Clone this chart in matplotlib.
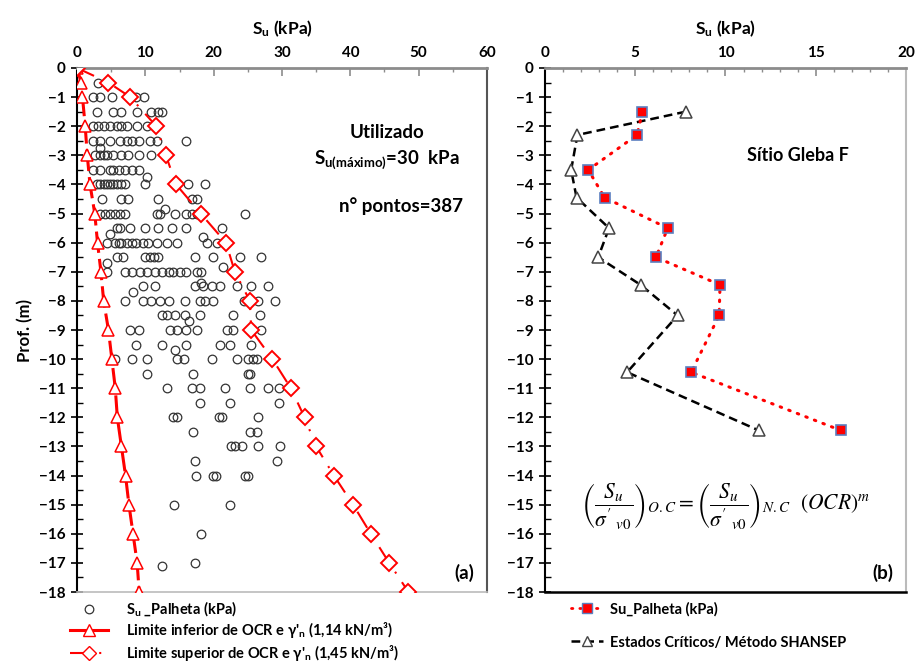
import matplotlib
matplotlib.use("Agg")
import matplotlib.pyplot as plt
from matplotlib.ticker import MultipleLocator
from matplotlib.lines import Line2D

plt.rcParams['font.family'] = ['Lato', 'DejaVu Sans']
plt.rcParams['mathtext.fontset'] = 'custom'
plt.rcParams['mathtext.rm'] = 'Lato:bold'
plt.rcParams['mathtext.bf'] = 'Lato:bold'
plt.rcParams['mathtext.it'] = 'Lato:bold'

# ---- (a) vane test points, grouped by depth row
palheta_depths = [-0.5, -1.0, -1.5, -2.0, -2.5, -2.75, -3.0, -3.5, -3.75, -4.0,
                  -4.5, -4.85, -5.0, -5.5, -5.7, -5.8, -6.0, -6.5, -6.7, -6.85,
                  -7.0, -7.4, -7.5, -7.7, -8.0, -8.5, -8.7, -9.0, -9.5, -9.7,
                  -10.0, -10.5, -11.0, -11.5, -12.0, -12.5, -13.0, -13.5, -14.0,
                  -15.0, -16.0, -17.0, -17.1]
palheta_su = [
    [3.1],
    [2.4, 3.3, 5.1, 8.7, 9.8],
    [2.9, 5.3, 6.5, 8.8, 10.9, 11.9, 12.4],
    [2.4, 3.1, 3.9, 4.8, 5.8, 6.5, 7.3, 8.8, 10.3],
    [2.4, 3.3, 4.8, 6.3, 7.3, 8.0, 9.1, 10.7, 11.7, 15.9],
    [3.3],
    [2.6, 3.3, 3.9, 4.4, 5.3, 6.5, 7.5, 9.0, 10.8],
    [2.4, 3.4, 4.8, 5.3, 6.2, 7.0, 8.0, 9.0],
    [10.3],
    [2.9, 3.4, 3.9, 4.4, 4.8, 5.3, 5.8, 6.4, 7.0, 9.9, 16.3, 18.7],
    [3.6, 6.5, 7.5, 11.9, 16.8, 17.5],
    [12.9],
    [3.4, 4.1, 4.8, 5.6, 6.3, 7.0, 11.7, 12.2, 14.3, 16.0, 16.8, 17.5, 24.6],
    [5.8, 6.3, 7.8, 10.0, 11.9, 13.9, 16.0, 21.2],
    [4.8],
    [18.5],
    [4.4, 5.6, 6.1, 6.5, 7.3, 8.0, 8.7, 9.7, 10.4, 11.7, 13.1, 14.6, 19.0, 20.5],
    [5.8, 6.8, 10.0, 10.7, 11.2, 11.9, 17.3, 19.9, 23.9, 27.0],
    [4.4],
    [21.4],
    [4.4, 7.0, 8.0, 9.2, 10.2, 11.4, 12.4, 13.4, 14.1, 15.1, 16.0, 17.5, 18.2],
    [18.2],
    [9.7, 11.4, 17.3, 18.5, 19.7, 20.9, 23.4, 25.4, 28.0],
    [8.2],
    [7.0, 9.7, 10.9, 12.2, 13.4, 15.8, 18.0, 18.7, 19.9, 24.4, 26.5, 29.0],
    [12.4, 13.1, 14.3, 15.8, 18.0, 22.9, 26.8],
    [16.4],
    [7.8, 9.0, 13.6, 14.6, 16.0, 17.5, 21.9, 22.9, 25.3, 27.0],
    [8.7, 12.4, 16.0, 20.9, 22.4, 25.5],
    [14.3],
    [5.6, 8.0, 10.3, 14.6, 15.6, 19.7, 23.4, 25.0, 25.7, 26.4],
    [10.3, 17.0, 25.0, 25.3],
    [13.1, 16.8, 18.0, 21.7, 25.3, 28.0, 29.5],
    [18.0, 22.4, 29.5],
    [14.1, 14.6, 20.8, 21.2, 26.5],
    [17.0, 25.3, 26.3],
    [22.6, 23.1, 24.1, 26.5, 29.7],
    [17.3, 29.2],
    [17.4, 19.9, 20.3, 24.6, 25.0],
    [14.2, 22.4],
    [18.2],
    [17.2],
    [12.4],
]

# OCR limits
lim_inf_depth = [0, -0.5, -1, -2, -3, -4, -5, -6, -7, -8, -9, -10, -11, -12, -13,
                 -14, -15, -16, -17, -18]
lim_inf_su = [0, 0.6, 0.8, 1.2, 1.5, 1.9, 2.6, 3.0, 3.5, 3.9, 4.6, 5.1, 5.6, 5.9,
              6.5, 7.1, 7.6, 8.2, 8.8, 9.1]
lim_sup_depth = [0, -0.5, -1, -2, -3, -4, -5, -6, -7, -8, -9, -10, -11, -12, -13,
                 -14, -15, -16, -17, -18]
lim_sup_su = [0, 4.6, 7.8, 11.6, 13.0, 14.5, 18.1, 21.8, 23.1, 25.3, 25.5, 28.6,
              31.3, 33.3, 35.0, 37.6, 40.4, 43.0, 45.7, 48.5]

# ---- (b) Sitio Gleba F
b_depth = [-1.5, -2.3, -3.5, -4.45, -5.5, -6.5, -7.45, -8.5, -10.45, -12.45]
b_palheta = [5.4, 5.1, 2.4, 3.3, 6.8, 6.15, 9.7, 9.65, 8.1, 16.4]
b_shansep = [7.8, 1.8, 1.45, 1.75, 3.55, 2.95, 5.3, 7.35, 4.55, 11.85]

red = '#FF0000'
gray = '#8C8C8C'

fig = plt.figure(figsize=(9.19, 6.64), dpi=100)
axa = fig.add_axes([0.0838, 0.1084, 0.4461, 0.7892])
axb = fig.add_axes([0.5930, 0.1084, 0.3928, 0.7892])

xs, ys = [], []
for d, vals in zip(palheta_depths, palheta_su):
    for v in vals:
        xs.append(v)
        ys.append(d)
axa.plot(xs, ys, 'o', ms=6.2, mfc='none', mec='#333333', mew=0.9, zorder=2)
axa.plot(lim_inf_su, lim_inf_depth, color=red, lw=2.2, ls=(0, (7, 2)),
         marker='^', ms=8, mfc='white', mec=red, mew=1.1, zorder=3)
axa.plot(lim_sup_su, lim_sup_depth, color=red, lw=1.5, ls=(0, (9, 5, 1, 5)),
         marker='D', ms=8, mfc='white', mec=red, mew=1.4, zorder=3)

axb.plot(b_shansep, b_depth, color='black', lw=1.8, ls=(0, (3.5, 2)),
         marker='^', ms=8, mfc='white', mec='#444444', mew=1.1, zorder=3)
axb.plot(b_palheta, b_depth, color=red, lw=2.2, ls=(0, (0.5, 2.5)),
         dash_capstyle='round', marker='s', ms=7.5, mfc=red, mec='#5B7FC0',
         mew=1.2, zorder=4)

for ax, xmax, major, minor in [(axa, 60, 10, 5), (axb, 20, 5, 1)]:
    ax.set_xlim(0, xmax)
    ax.set_ylim(-18, 0)
    ax.xaxis.tick_top()
    ax.xaxis.set_label_position('top')
    ax.xaxis.set_major_locator(MultipleLocator(major))
    ax.xaxis.set_minor_locator(MultipleLocator(minor))
    ax.yaxis.set_major_locator(MultipleLocator(1))
    ax.yaxis.set_minor_locator(MultipleLocator(0.5))
    ax.tick_params(axis='x', which='major', direction='in', length=6,
                   width=1.2, color=gray, labelsize=11, pad=6)
    ax.tick_params(axis='x', which='minor', direction='in', length=3,
                   width=1, color=gray)
    ax.tick_params(axis='y', which='major', direction='inout', length=8,
                   width=1.2, labelsize=11, pad=4)
    ax.tick_params(axis='y', which='minor', direction='in', length=4, width=1)
    for lab in ax.get_xticklabels() + ax.get_yticklabels():
        lab.set_fontweight('bold')
    ax.set_xlabel(r'S$_\mathbf{u}$ (kPa)', fontsize=12.5, labelpad=8,
                  fontweight='bold')
    ax.spines['top'].set_color(gray)
    ax.spines['top'].set_linewidth(2)
    ax.spines['right'].set_color('#555555')
    ax.spines['right'].set_linewidth(1.5)
    ax.spines['bottom'].set_color('#BBBBBB')
    ax.spines['bottom'].set_linewidth(1.2)
    ax.spines['left'].set_linewidth(1.5)

axb.spines['bottom'].set_color('black')
axb.spines['bottom'].set_linewidth(1.8)
axb.spines['right'].set_color('#BBBBBB')

axa.set_ylabel('Prof. (m)', fontsize=12, labelpad=4, fontweight='bold')

bold = dict(fontweight='bold', fontsize=13.5)
axa.text(0.755, 0.876, 'Utilizado', transform=axa.transAxes, ha='center',
         va='center', **bold)
axa.text(0.755, 0.824, r'S$_\mathbf{u(máximo)}$=30  kPa',
         transform=axa.transAxes, ha='center', va='center', **bold)
axa.text(0.79, 0.737, 'n° pontos=387', transform=axa.transAxes, ha='center',
         va='center', **bold)
axa.text(0.97, 0.02, '(a)', transform=axa.transAxes, ha='right', va='bottom',
         **bold)

axb.text(0.70, 0.833, 'Sítio Gleba F', transform=axb.transAxes, ha='center',
         va='center', fontweight='bold', fontsize=13)
axb.text(0.965, 0.02, '(b)', transform=axb.transAxes, ha='right', va='bottom',
         **bold)
axb.text(0.50, 0.165,
         r"$\left(\dfrac{S_u}{\sigma'_{\ v0}}\right)_{O.C} = "
         r"\left(\dfrac{S_u}{\sigma'_{\ v0}}\right)_{N.C}\ \ (OCR)^m$",
         transform=axb.transAxes, ha='center', va='center', fontsize=15.5,
         math_fontfamily='stix')

h_a = [Line2D([], [], ls='none', marker='o', ms=6.2, mfc='none', mec='#333333', mew=0.9),
       Line2D([], [], color=red, lw=2.2, marker='^', ms=8, mfc='white', mec=red),
       Line2D([], [], color=red, lw=1.5, ls=(0, (9, 5, 1, 5)), marker='D', ms=7,
              mfc='white', mec=red)]
l_a = [r'S$_\mathbf{u}$ _Palheta (kPa)',
       "Limite inferior de OCR e γ'$_\\mathbf{n}$ (1,14 kN/m³)",
       "Limite superior de OCR e γ'$_\\mathbf{n}$ (1,45 kN/m³)"]
fig.legend(h_a, l_a, loc='upper left', bbox_to_anchor=(0.07, 0.106),
           frameon=False, prop=dict(size=10.5, weight='bold'),
           handlelength=2.6, labelspacing=0.15, borderaxespad=0,
           handletextpad=1.2)

h_b = [Line2D([], [], color=red, lw=2, ls=(0, (0.5, 2.5)), dash_capstyle='round',
              marker='s', ms=7, mfc=red, mec='#5B7FC0'),
       Line2D([], [], color='black', lw=1.8, ls=(0, (3.5, 2)), marker='^', ms=7,
              mfc='white', mec='#444444')]
l_b = ['Su_Palheta (kPa)', 'Estados Críticos/ Método SHANSEP']
fig.legend(h_b, l_b, loc='upper left', bbox_to_anchor=(0.615, 0.102),
           frameon=False, prop=dict(size=10.5, weight='bold'),
           handlelength=2.2, labelspacing=1.3, borderaxespad=0,
           handletextpad=0.5)

fig.savefig('out.png', dpi=100)
